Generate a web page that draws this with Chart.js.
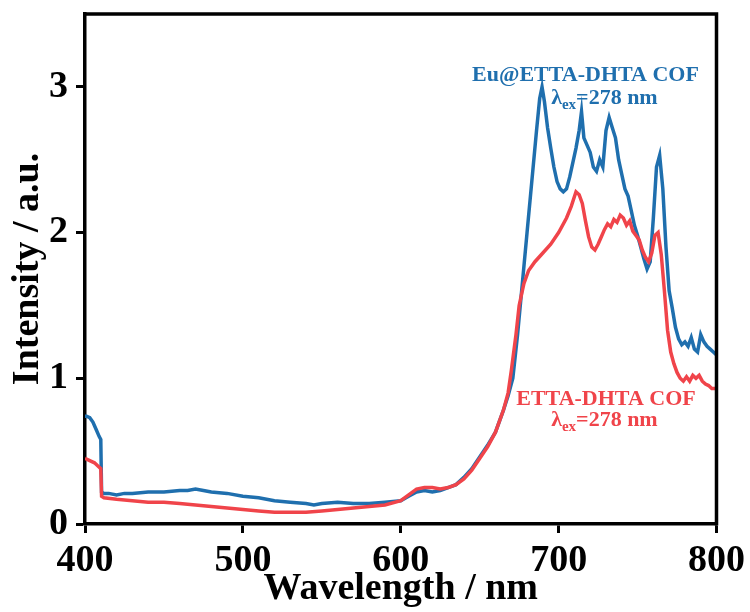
<!DOCTYPE html>
<html>
<head>
<meta charset="utf-8">
<script src="https://cdn.jsdelivr.net/npm/chart.js@4.4.1/dist/chart.umd.min.js"></script>
<style>
  html, body { margin: 0; padding: 0; background: #fff; }
  #wrap { width: 750px; height: 612px; }
</style>
</head>
<body>
<div id="wrap"><canvas id="myChart" width="750" height="612"></canvas></div>
<script>
'use strict';

// Eu@ETTA-DHTA COF emission (blue)
var blueNm = [400, 401, 403, 405, 407, 409, 410, 410.5, 412, 415, 420, 425, 430, 440, 450, 460, 465, 470, 475, 480,
    490, 500, 510, 520, 530, 540, 545, 550, 560, 570, 580, 590, 600, 605, 610, 615, 620, 625, 630, 635,
    640, 645, 650, 655, 660, 665, 668, 671, 674, 677, 680, 683, 686, 688, 689.5, 691, 693, 695, 697, 699,
    701, 703, 705, 707, 709, 711, 713, 714.5, 716, 718, 720, 722, 724, 726, 728, 730, 732, 734, 736, 738,
    740, 742, 744, 746, 748, 750, 752, 754, 756, 758, 760, 762, 764, 766, 768, 770, 772, 774, 776, 778,
    780, 782, 784, 786, 788, 790, 792, 794, 796, 798, 800];
var blueVal = [0.74, 0.74, 0.73, 0.70, 0.65, 0.60, 0.58, 0.22, 0.21, 0.21, 0.20, 0.21, 0.21, 0.22, 0.22, 0.23, 0.23, 0.24, 0.23, 0.22,
    0.21, 0.19, 0.18, 0.16, 0.15, 0.14, 0.13, 0.14, 0.15, 0.14, 0.14, 0.15, 0.16, 0.19, 0.22, 0.23, 0.22, 0.23, 0.25, 0.27,
    0.32, 0.38, 0.46, 0.54, 0.63, 0.78, 0.88, 1.00, 1.30, 1.65, 2.00, 2.35, 2.70, 2.92, 3.00, 2.90, 2.72, 2.58, 2.45, 2.35,
    2.30, 2.28, 2.30, 2.38, 2.48, 2.58, 2.70, 2.83, 2.65, 2.60, 2.55, 2.45, 2.42, 2.50, 2.45, 2.70, 2.79, 2.72, 2.65, 2.50,
    2.40, 2.30, 2.25, 2.15, 2.05, 1.98, 1.90, 1.82, 1.75, 1.80, 2.10, 2.45, 2.53, 2.30, 1.90, 1.60, 1.48, 1.35, 1.27, 1.23,
    1.25, 1.22, 1.28, 1.20, 1.18, 1.30, 1.25, 1.22, 1.20, 1.18, 1.16];

// ETTA-DHTA COF emission (red)
var redNm = [400, 402, 404, 406, 408, 410, 410.5, 412, 420, 430, 440, 450, 460, 470, 480, 490, 500, 510, 520, 530,
    540, 550, 560, 570, 580, 590, 600, 605, 610, 615, 620, 625, 630, 635, 640, 645, 650, 655, 660, 665,
    668, 670, 673, 675, 678, 681, 685, 690, 695, 700, 705, 708, 711, 713, 715, 717, 719, 721, 723, 725,
    727, 729, 731, 733, 735, 737, 739, 741, 743, 745, 747, 749, 751, 753, 755, 757, 759, 761, 763, 765,
    767, 769, 771, 773, 775, 777, 779, 781, 783, 785, 787, 789, 791, 793, 795, 797, 800];
var redVal = [0.45, 0.44, 0.43, 0.42, 0.40, 0.38, 0.19, 0.18, 0.17, 0.16, 0.15, 0.15, 0.14, 0.13, 0.12, 0.11, 0.10, 0.09, 0.08, 0.08,
    0.08, 0.09, 0.10, 0.11, 0.12, 0.13, 0.16, 0.20, 0.24, 0.25, 0.25, 0.24, 0.25, 0.27, 0.31, 0.37, 0.45, 0.53, 0.63, 0.78,
    0.90, 1.05, 1.30, 1.50, 1.65, 1.74, 1.80, 1.86, 1.92, 2.00, 2.10, 2.18, 2.28, 2.26, 2.20, 2.08, 1.97, 1.90, 1.88, 1.92,
    1.97, 2.02, 2.06, 2.04, 2.09, 2.07, 2.12, 2.10, 2.05, 2.08, 2.01, 1.98, 1.95, 1.88, 1.83, 1.80, 1.86, 1.98, 2.00, 1.85,
    1.60, 1.33, 1.18, 1.10, 1.04, 1.00, 0.98, 1.01, 0.98, 1.02, 1.00, 1.02, 0.98, 0.96, 0.95, 0.93, 0.93];

var xTicks = [400, 500, 600, 700, 800];
var yTicks = [0, 1, 2, 3];

var BLUE = '#1f6fae';
var RED = '#f0444a';
var FONT = "'Liberation Serif', 'Times New Roman', serif";

function toPoints(xs, ys) {
    return xs.map(function (x, i) { return { x: x, y: ys[i] }; });
}

// top and right sides of the frame, plus the two labels
var framePlugin = {
    id: 'frame',
    afterDraw: function (chart) {
        var c = chart.ctx;
        var a = chart.chartArea;
        c.save();
        c.strokeStyle = '#000';
        c.lineWidth = 3.5;
        c.beginPath();
        c.moveTo(a.left - 1.5, a.top);
        c.lineTo(a.right, a.top);
        c.lineTo(a.right, a.bottom + 1.5);
        c.stroke();

        var xs = chart.scales.x, ys = chart.scales.y;
        drawLabel(c, 'Eu@ETTA-DHTA COF', xs.getPixelForValue(717), ys.getPixelForValue(3.04), BLUE);
        drawLambda(c, xs.getPixelForValue(729), ys.getPixelForValue(2.88), BLUE);
        drawLabel(c, 'ETTA-DHTA COF', xs.getPixelForValue(730), ys.getPixelForValue(0.82), RED);
        drawLambda(c, xs.getPixelForValue(729), ys.getPixelForValue(0.67), RED);
        c.restore();
    }
};

function drawLabel(c, txt, x, y, col) {
    c.font = 'bold 22px ' + FONT;
    c.fillStyle = col;
    c.textAlign = 'center';
    c.textBaseline = 'alphabetic';
    c.fillText(txt, x, y);
}

function drawLambda(c, cx, y, col) {
    c.fillStyle = col;
    c.textBaseline = 'alphabetic';
    c.textAlign = 'left';
    var big = 'bold 22px ' + FONT, small = 'bold 15px ' + FONT;
    c.font = big;
    var w1 = c.measureText('\u03bb').width, w3 = c.measureText('=278 nm').width;
    c.font = small;
    var w2 = c.measureText('ex').width;
    var x = cx - (w1 + w2 + w3) / 2;
    c.font = big;
    c.fillText('\u03bb', x, y);
    c.font = small;
    c.fillText('ex', x + w1, y + 5);
    c.font = big;
    c.fillText('=278 nm', x + w1 + w2, y);
}

var ctx = document.getElementById('myChart').getContext('2d');

var myChart = new Chart(ctx, {
    type: 'line',
    data: {
        datasets: [
            {
                label: 'ETTA-DHTA COF',
                data: toPoints(redNm, redVal),
                borderColor: RED,
                borderWidth: 3.5,
                pointRadius: 0,
                tension: 0,
                fill: false
            },
            {
                label: 'Eu@ETTA-DHTA COF',
                data: toPoints(blueNm, blueVal),
                borderColor: BLUE,
                borderWidth: 3.5,
                pointRadius: 0,
                tension: 0,
                fill: false
            }
        ]
    },
    plugins: [framePlugin],
    options: {
        responsive: false,
        animation: false,
        layout: { padding: { top: 14, right: 33, left: 0, bottom: 0 } },
        plugins: {
            legend: { display: false },
            tooltip: { enabled: false }
        },
        scales: {
            x: {
                type: 'linear',
                min: 400,
                max: 800,
                afterBuildTicks: function (scale) {
                    scale.ticks = xTicks.map(function (v) { return { value: v }; });
                },
                afterFit: function (scale) { scale.height = 88; },
                grid: {
                    drawOnChartArea: false,
                    drawTicks: true,
                    tickLength: 9,
                    tickWidth: 3,
                    tickColor: '#000'
                },
                border: { color: '#000', width: 3.5 },
                ticks: {
                    color: '#000',
                    padding: 5,
                    maxRotation: 0,
                    font: { family: FONT, size: 38, weight: 'bold' }
                },
                title: {
                    display: true,
                    text: 'Wavelength / nm',
                    color: '#000',
                    padding: 0,
                    font: { family: FONT, size: 38, weight: 'bold' }
                }
            },
            y: {
                min: 0,
                max: 3.5,
                afterBuildTicks: function (scale) {
                    scale.ticks = yTicks.map(function (v) { return { value: v }; });
                },
                afterFit: function (scale) {
                    scale.width = 85;
                    scale.paddingTop = 0;
                    scale.paddingBottom = 0;
                },
                grid: {
                    drawOnChartArea: false,
                    drawTicks: true,
                    tickLength: 9,
                    tickWidth: 3,
                    tickColor: '#000'
                },
                border: { color: '#000', width: 3.5 },
                ticks: {
                    color: '#000',
                    padding: 8,
                    font: { family: FONT, size: 38, weight: 'bold' }
                },
                title: {
                    display: true,
                    text: 'Intensity / a.u.',
                    color: '#000',
                    padding: { top: 5, bottom: 0 },
                    font: { family: FONT, size: 38, weight: 'bold' }
                }
            }
        }
    }
});
</script>
</body>
</html>
